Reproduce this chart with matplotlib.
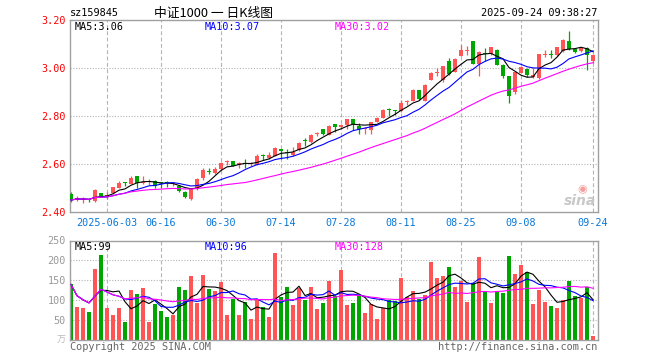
import numpy as np
import pandas as pd
import matplotlib
matplotlib.use("Agg")
import matplotlib.pyplot as plt

# daily K data for sz159845 (88 sessions, 2025-05-23 .. 2025-09-24)
opens = [2.475, 2.452, 2.450, 2.452, 2.446, 2.478, 2.465, 2.478, 2.500, 2.522,
         2.517, 2.550, 2.520, 2.524, 2.529, 2.521, 2.523, 2.515, 2.508, 2.482,
         2.455, 2.494, 2.540, 2.570, 2.564, 2.579, 2.608, 2.612, 2.594, 2.603,
         2.598, 2.596, 2.635, 2.625, 2.634, 2.662, 2.647, 2.637, 2.658, 2.698,
         2.690, 2.727, 2.744, 2.722, 2.767, 2.756, 2.763, 2.786, 2.760, 2.745,
         2.743, 2.775, 2.793, 2.826, 2.822, 2.820, 2.860, 2.864, 2.908, 2.864,
         2.950, 2.978, 2.950, 3.029, 2.985, 3.051, 3.070, 3.111, 3.017, 3.062,
         3.058, 3.076, 3.014, 2.965, 2.900, 2.981, 2.996, 2.962, 2.958, 3.056,
         3.056, 3.054, 3.069, 3.112, 3.079, 3.072, 3.085, 3.028]
highs = [2.485, 2.468, 2.462, 2.455, 2.495, 2.480, 2.485, 2.505, 2.529, 2.527,
         2.550, 2.552, 2.550, 2.539, 2.533, 2.527, 2.529, 2.525, 2.512, 2.487,
         2.497, 2.540, 2.582, 2.585, 2.588, 2.608, 2.617, 2.614, 2.610, 2.620,
         2.607, 2.640, 2.642, 2.648, 2.672, 2.664, 2.662, 2.671, 2.692, 2.707,
         2.724, 2.735, 2.747, 2.762, 2.768, 2.768, 2.788, 2.788, 2.772, 2.755,
         2.776, 2.796, 2.828, 2.832, 2.825, 2.867, 2.867, 2.911, 2.910, 2.932,
         2.982, 3.001, 3.010, 3.040, 3.040, 3.097, 3.090, 3.114, 3.070, 3.083,
         3.088, 3.080, 3.016, 2.968, 2.986, 3.006, 2.998, 2.998, 3.060, 3.075,
         3.075, 3.088, 3.120, 3.154, 3.082, 3.085, 3.089, 3.058]
lows = [2.443, 2.446, 2.437, 2.440, 2.443, 2.465, 2.453, 2.476, 2.498, 2.510,
        2.515, 2.500, 2.517, 2.512, 2.500, 2.500, 2.505, 2.508, 2.482, 2.460,
        2.450, 2.490, 2.535, 2.560, 2.560, 2.577, 2.594, 2.590, 2.585, 2.582,
        2.592, 2.594, 2.617, 2.622, 2.632, 2.620, 2.620, 2.634, 2.655, 2.677,
        2.688, 2.715, 2.720, 2.720, 2.735, 2.745, 2.745, 2.742, 2.725, 2.725,
        2.725, 2.773, 2.791, 2.800, 2.804, 2.818, 2.846, 2.862, 2.866, 2.862,
        2.948, 2.966, 2.940, 2.970, 2.983, 3.049, 3.056, 3.016, 2.968, 3.028,
        3.056, 3.012, 2.958, 2.855, 2.892, 2.979, 2.961, 2.958, 2.954, 3.047,
        3.040, 3.052, 3.067, 3.075, 3.062, 3.065, 2.990, 3.020]
closes = [2.450, 2.458, 2.455, 2.448, 2.492, 2.467, 2.470, 2.503, 2.522, 2.519,
          2.543, 2.520, 2.527, 2.527, 2.508, 2.519, 2.521, 2.518, 2.487, 2.464,
          2.494, 2.536, 2.577, 2.568, 2.578, 2.606, 2.611, 2.593, 2.603, 2.600,
          2.603, 2.633, 2.633, 2.637, 2.665, 2.654, 2.645, 2.651, 2.689, 2.696,
          2.720, 2.730, 2.723, 2.759, 2.756, 2.764, 2.786, 2.765, 2.746, 2.749,
          2.773, 2.793, 2.825, 2.824, 2.820, 2.856, 2.863, 2.908, 2.869, 2.929,
          2.980, 2.981, 3.008, 2.974, 3.037, 3.076, 3.073, 3.018, 3.067, 3.060,
          3.086, 3.014, 2.965, 2.885, 2.983, 3.003, 2.972, 2.970, 3.058, 3.058,
          3.054, 3.086, 3.117, 3.079, 3.068, 3.082, 3.055, 3.055]
# volume in 万手
volumes = [139, 82, 80, 69, 178, 213, 79, 63, 79, 43,
           124, 114, 130, 43, 89, 71, 58, 63, 132, 124,
           160, 91, 162, 127, 122, 145, 61, 102, 61, 94,
           53, 100, 81, 56, 218, 107, 132, 86, 130, 100,
           133, 78, 93, 147, 109, 176, 86, 91, 112, 66,
           89, 53, 79, 99, 96, 155, 107, 122, 102, 112,
           195, 155, 160, 183, 132, 147, 94, 142, 208, 119,
           91, 119, 117, 211, 165, 188, 170, 89, 124, 94,
           84, 79, 99, 147, 109, 104, 132, 10]

tick_idx = [6, 15, 25, 35, 45, 55, 65, 75, 87]
tick_labels = ["2025-06-03", "06-16", "06-30", "07-14", "07-28",
               "08-11", "08-25", "09-08", "09-24"]
ma_windows = [5, 10, 30]
ma_colors = ["#000000", "#0000ff", "#ff00ff"]
price_legend = ["MA5:3.06", "MA10:3.07", "MA30:3.02"]
vol_legend = ["MA5:99", "MA10:96", "MA30:128"]
price_ticks = [2.40, 2.60, 2.80, 3.00, 3.20]
vol_ticks = [50, 100, 150, 200, 250]

RED = "#ff5555"
GREEN = "#00a600"
FRAME = "#a0a0a0"
GRID = "#b4b4b4"
MONO = "DejaVu Sans Mono"

W, H = 660, 360


def frac(x, y):
    return x / W, 1 - y / H


def style_axes(ax):
    for s in ax.spines.values():
        s.set_color(FRAME)
        s.set_linewidth(1.0)
    ax.set_xlim(-1 / 6, 87 + 5 / 6)
    ax.set_xticks(tick_idx)
    for xi in tick_idx:
        ax.axvline(xi, color=GRID, lw=0.8, dashes=(3.5, 2.2), zorder=0)
    ax.tick_params(length=0)


df = pd.DataFrame({"o": opens, "h": highs, "l": lows, "c": closes, "v": volumes})
x = np.arange(len(df))
up = df["c"] >= df["o"]
colors = np.where(up, RED, GREEN)

fig = plt.figure(figsize=(W / 100, H / 100), dpi=100)
fig.patch.set_facecolor("white")

# price panel
ax = fig.add_axes([70 / W, (H - 212) / H, 528 / W, 192 / H])
style_axes(ax)
ax.set_ylim(2.40, 3.20)
ax.set_yticks(price_ticks)
ax.set_yticklabels([f"{t:.2f}" for t in price_ticks], family=MONO, fontsize=7.3, color="#ff0000")
for t in price_ticks[1:-1]:
    ax.axhline(t, color=GRID, lw=0.8, dashes=(1, 1.5), zorder=0)
ax.set_xticklabels(tick_labels, family=MONO, fontsize=7.3, color="#0a78d8")
ax.tick_params(axis="x", pad=4)
ax.tick_params(axis="y", pad=3)

ax.vlines(x, df["l"], df["h"], colors=colors, lw=0.9, zorder=2)
body = np.maximum((df["c"] - df["o"]).abs(), 0.004)
ax.bar(x, body, bottom=np.minimum(df["o"], df["c"]), width=0.8, color=colors, zorder=3)
for w, col in zip(ma_windows, ma_colors):
    ax.plot(x, df["c"].rolling(w, min_periods=1).mean(), color=col, lw=0.8, zorder=4)

# volume panel
axv = fig.add_axes([70 / W, (H - 339.5) / H, 528 / W, 99 / H])
style_axes(axv)
axv.set_ylim(0, 250)
axv.set_yticks(vol_ticks)
axv.set_yticklabels([str(t) for t in vol_ticks], family=MONO, fontsize=7.3, color="#999999")
axv.tick_params(axis="y", pad=3)
axv.set_xticklabels([])
for t in vol_ticks[:-1]:
    axv.axhline(t, color=GRID, lw=0.8, dashes=(1, 1.5), zorder=0)
axv.bar(x, df["v"], width=0.8, color=colors, zorder=2)
for w, col in zip(ma_windows, ma_colors):
    axv.plot(x, df["v"].rolling(w, min_periods=1).mean(), color=col, lw=0.8, zorder=4)

# header / footer texts
fig.text(*frac(70, 13), "sz159845", family=MONO, fontsize=7.4, va="center", ha="left")
fig.text(*frac(213, 13), "中证1000 一 日K线图", family=["Noto Sans CJK SC", "DejaVu Sans"],
         fontsize=9.2, va="center", ha="center")
fig.text(*frac(597, 13), "2025-09-24 09:38:27", family=MONO, fontsize=7.4, va="center", ha="right")
for xp, txt, col in zip([75, 205, 335], price_legend, ma_colors):
    fig.text(*frac(xp, 26.5), txt, family=MONO, fontsize=7.3, color=col, va="center", ha="left")
for xp, txt, col in zip([75, 205, 335], vol_legend, ma_colors):
    fig.text(*frac(xp, 246.5), txt, family=MONO, fontsize=7.3, color=col, va="center", ha="left")
fig.text(*frac(66, 340), "万", family=["Noto Sans CJK SC"], fontsize=6.5, color="#bbbbbb",
         va="center", ha="right")
fig.text(*frac(70, 346.5), "Copyright 2025 SINA.COM", family=MONO, fontsize=7.4,
         color="#666666", va="center", ha="left")
fig.text(*frac(597, 346.5), "http://finance.sina.com.cn", family=MONO, fontsize=7.4,
         color="#666666", va="center", ha="right")

# sina watermark
fig.text(*frac(596, 201), "sina", family="DejaVu Sans", fontsize=10, fontweight="bold",
         style="italic", color="#c8c8c8", va="center", ha="right")
fig.text(*frac(582, 189), "◉", family="DejaVu Sans", fontsize=8, color="#f4a0a0",
         va="center", ha="center")

fig.savefig("out.png", dpi=100, facecolor="white")
